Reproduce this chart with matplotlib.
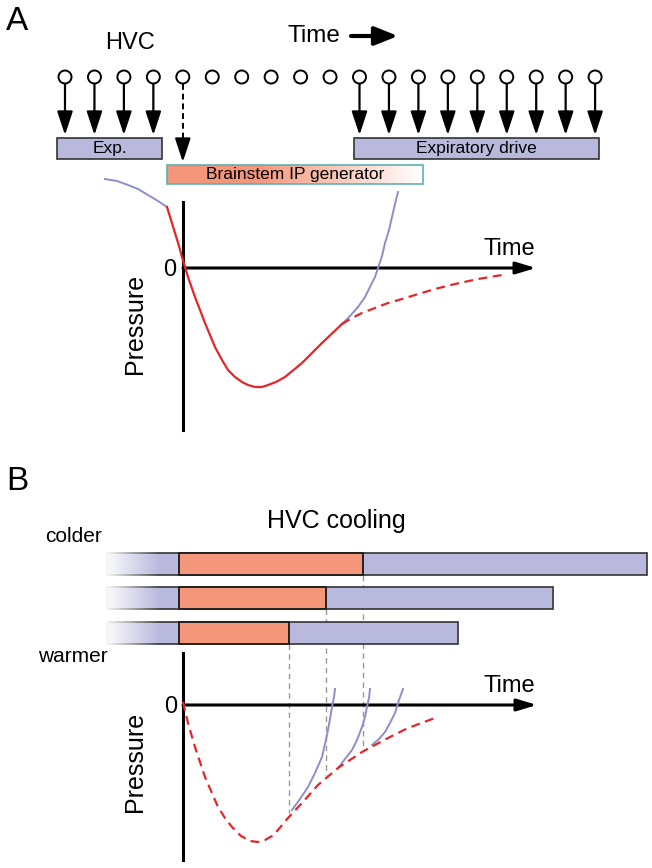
import numpy as np
import matplotlib
matplotlib.use("Agg")
import matplotlib.pyplot as plt
from matplotlib.patches import Rectangle, Circle
from matplotlib.colors import to_rgb

plt.rcParams['font.family'] = ['Liberation Sans', 'DejaVu Sans']

# colours
LAV = '#b9b9dd'
SALMON = '#f4967a'
RED = '#e4262a'
BLUE = '#8e8ec9'
TEAL = '#5fb0b4'

# ---- panel A data (pixel layout of the schematic) ----
neuron_x = [65 + i * 29.45 for i in range(19)]
neuron_drive = [1, 1, 1, 1, 2, 0, 0, 0, 0, 0, 1, 1, 1, 1, 1, 1, 1, 1, 1]  # 1 solid, 2 dashed
exp_box = (57, 162)
drive_box = (354, 599)
ip_box = (167, 423)

# pressure trace A
a_blue_left_x = [105, 117, 128, 138, 148, 158, 167]
a_blue_left_y = [179, 181, 185, 189, 195, 201, 207]
a_red_x = [167, 171, 175, 179, 182, 188, 195, 205, 215, 222, 228, 235, 242, 248, 255, 262, 268, 276, 285, 302, 322, 342]
a_red_y = [207, 220, 233, 246, 257, 277, 297, 323, 347, 360, 370, 377, 382, 385, 387, 387, 385, 382, 377, 363, 343, 324]
a_dash_x = [342, 352, 362, 375, 388, 402, 415, 435, 455, 478, 502]
a_dash_y = [324, 318, 313, 308, 303, 299, 295, 289, 284, 279, 275]
a_blue_right_x = [342, 350, 358, 365, 370, 375, 378, 382, 385, 389, 392, 395, 398]
a_blue_right_y = [324, 316, 307, 297, 287, 277, 268, 256, 243, 230, 217, 204, 192]

# ---- panel B data ----
bar_tops = [553, 587, 622]
bar_height = 22
bar_start = 107
ip_start = 179
ip_end = [363, 326, 289]
bar_end = [647, 553, 458]
guide_bottom = [748, 775, 813]

b_dash_x = [183, 188, 195, 205, 218, 225, 232, 241, 250, 258, 265, 272, 278, 288, 302, 318, 338, 362, 388, 408, 435]
b_dash_y = [702, 723, 747, 777, 807, 818, 827, 836, 841, 842, 840, 836, 830, 818, 803, 785, 768, 752, 738, 728, 718]
b_blue = [
    ([292, 300, 308, 315, 322, 325, 328, 330, 332, 334, 335], [810, 799, 787, 773, 757, 744, 730, 719, 707, 697, 689]),
    ([338, 345, 352, 357, 362, 365, 367, 369, 370], [768, 759, 750, 740, 727, 717, 707, 698, 689]),
    ([372, 379, 385, 390, 395, 399, 403], [745, 739, 732, 723, 713, 700, 689]),
]

fig = plt.figure(figsize=(6.52, 8.68), dpi=100)
ax = fig.add_axes([0, 0, 1, 1])
ax.set_xlim(0, 652)
ax.set_ylim(868, 0)
ax.axis('off')


def arrow(x0, y0, x1, y1, lw=1.6, hl=1.0, hw=0.33, ms=14.4, ls='-'):
    ax.annotate('', xy=(x1, y1), xytext=(x0, y0),
                arrowprops=dict(arrowstyle=f'-|>,head_length={hl},head_width={hw}',
                                mutation_scale=ms, lw=lw, color='k',
                                shrinkA=0, shrinkB=0, linestyle=ls))


def hgrad(x0, x1, y0, y1, c_left, c_right, frac_start, alpha=None):
    n = 200
    t = np.clip((np.linspace(0, 1, n) - frac_start) / (1 - frac_start), 0, 1)
    cl, cr = np.array(to_rgb(c_left)), np.array(to_rgb(c_right))
    img = np.zeros((1, n, 4))
    img[0, :, :3] = cl[None, :] * (1 - t[:, None]) + cr[None, :] * t[:, None]
    img[0, :, 3] = 1 if alpha is None else alpha(np.linspace(0, 1, n))
    ax.imshow(img, extent=[x0, x1, y1, y0], aspect='auto', interpolation='bilinear', zorder=3)


# ---------------- Panel A ----------------
ax.text(17.5, 21, 'A', fontsize=24, ha='center', va='center')
ax.text(130, 43, 'HVC', fontsize=17, ha='center', va='center')
ax.text(314, 36, 'Time', fontsize=17.5, ha='center', va='center')
arrow(351, 36, 398, 36, lw=3, hl=1.0, hw=0.4, ms=14)

for x, d in zip(neuron_x, neuron_drive):
    ax.add_patch(Circle((x, 77), 6.5, fc='white', ec='k', lw=1.4, zorder=4))
    if d == 1:
        arrow(x, 83.5, x, 135)
    elif d == 2:
        ax.plot([x, x], [83.5, 150], color='k', lw=1.4, dashes=(3, 2))
        arrow(x, 148, x, 162)

for (x0, x1), lab in [(exp_box, 'Exp.'), (drive_box, 'Expiratory drive')]:
    ax.add_patch(Rectangle((x0, 138), x1 - x0, 21, fc=LAV, ec='#333333', lw=1.2))
    ax.text((x0 + x1) / 2, 148.5, lab, fontsize=12.5, ha='center', va='center')

hgrad(ip_box[0], ip_box[1], 165, 184, SALMON, '#ffffff', 0.35)
ax.add_patch(Rectangle((ip_box[0], 165), ip_box[1] - ip_box[0], 19, fc='none', ec=TEAL, lw=1.2, zorder=4))
ax.text((ip_box[0] + ip_box[1]) / 2, 175, 'Brainstem IP generator', fontsize=12.5, ha='center', va='center', zorder=5)

# axes A
ax.plot([183, 183], [202, 430], color='k', lw=2.2)
arrow(183, 268, 536, 268, lw=2.2, hl=1.0, hw=0.3, ms=12)
ax.text(509, 249, 'Time', fontsize=17, ha='center', va='center')
ax.text(170, 270, '0', fontsize=17, ha='center', va='center')
ax.text(135, 324, 'Pressure', fontsize=18, ha='center', va='center', rotation=90)

ax.plot(a_blue_left_x, a_blue_left_y, color=BLUE, lw=1.4, zorder=5, solid_joinstyle='round')
ax.plot(a_blue_right_x, a_blue_right_y, color=BLUE, lw=1.4, zorder=5, solid_joinstyle='round')
ax.plot(a_red_x, a_red_y, color=RED, lw=1.6, zorder=6, solid_joinstyle='round')
ax.plot(a_dash_x, a_dash_y, color=RED, lw=1.6, dashes=(4, 2.5), zorder=6)

# ---------------- Panel B ----------------
ax.text(17.5, 482, 'B', fontsize=24, ha='center', va='center')
ax.text(336, 521, 'HVC cooling', fontsize=18, ha='center', va='center')
ax.text(73, 537, 'colder', fontsize=15, ha='center', va='center')
ax.text(73, 657, 'warmer', fontsize=15, ha='center', va='center')

for top, ie, be in zip(bar_tops, ip_end, bar_end):
    ax.add_patch(Rectangle((bar_start, top), be - bar_start, bar_height, fc=LAV, ec='#333333', lw=1.2, zorder=2))
    ax.add_patch(Rectangle((ip_start, top), ie - ip_start, bar_height, fc=SALMON, ec='#222222', lw=1.4, zorder=4))
    hgrad(bar_start - 3, 160, top - 2, top + bar_height + 2, '#ffffff', '#ffffff', 0.0,
          alpha=lambda s: 1 - s)

for top, ie, gb in zip(bar_tops, ip_end, guide_bottom):
    ax.plot([ie, ie], [top + bar_height, gb], color='#999999', lw=1, dashes=(4, 3), zorder=1)

ax.plot([183, 183], [653, 860], color='k', lw=2.2)
arrow(183, 705, 537, 705, lw=2.2, hl=1.0, hw=0.3, ms=12)
ax.text(509, 686, 'Time', fontsize=17, ha='center', va='center')
ax.text(171, 707, '0', fontsize=17, ha='center', va='center')
ax.text(135, 762, 'Pressure', fontsize=18, ha='center', va='center', rotation=90)

for bx, by in b_blue:
    ax.plot(bx, by, color=BLUE, lw=1.4, zorder=5, solid_joinstyle='round')
ax.plot(b_dash_x, b_dash_y, color=RED, lw=1.6, dashes=(4, 2.5), zorder=6)

fig.savefig('out.png', dpi=100)
